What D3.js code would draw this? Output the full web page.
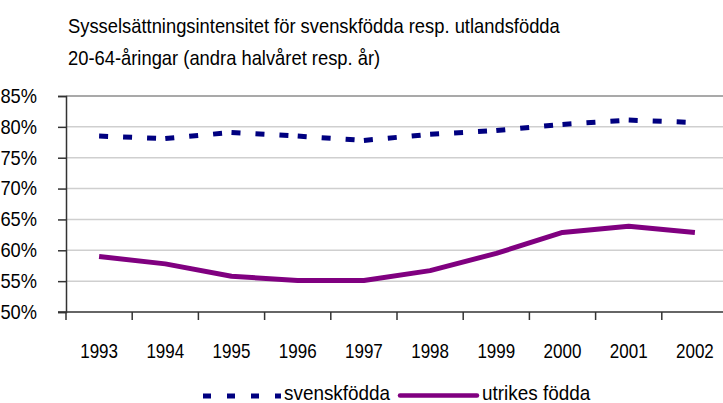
<!DOCTYPE html>
<html lang="sv">
<head>
    <meta charset="utf-8">
    <title>Sysselsättningsintensitet</title>
    <script type="text/javascript" src="https://d3js.org/d3.v7.min.js"></script>
    <style type="text/css">
        body { margin: 0; background: #fff; }
        svg { font-family: "Liberation Sans", Arial, sans-serif; }
    </style>
</head>
<body>
<script type="text/javascript">

    // data
    var years = ["1993", "1994", "1995", "1996", "1997", "1998", "1999", "2000", "2001", "2002"];
    var svenskfodda = [78.5, 78.1, 79.1, 78.5, 77.8, 78.8, 79.4, 80.4, 81.1, 80.7];
    var utrikesFodda = [59.0, 57.8, 55.8, 55.1, 55.1, 56.7, 59.5, 62.9, 63.9, 62.9];
    var yTicks = [50, 55, 60, 65, 70, 75, 80, 85];
    var titleLines = ["Sysselsättningsintensitet för svenskfödda resp. utlandsfödda",
                      "20-64-åringar (andra halvåret resp. år)"];
    var seriesNames = ["svenskfödda", "utrikes födda"];

    var width = 723, height = 403;

    var svg = d3.select("body")
        .append("svg")
        .attr("width", width)
        .attr("height", height);

    var x = d3.scaleBand().domain(years).range([66, 728]);
    var y = d3.scaleLinear().domain([50, 85]).range([312, 96]);

    // the original font is a narrow sans, so squeeze the text horizontally
    function squeeze(sel, f) {
        sel.each(function() {
            var w = this.getComputedTextLength();
            d3.select(this)
                .attr("textLength", w * f)
                .attr("lengthAdjust", "spacingAndGlyphs");
        });
    }

    // title
    svg.selectAll(".title")
        .data(titleLines)
        .enter()
        .append("text")
        .attr("class", "title")
        .attr("x", 68)
        .attr("y", function(d, i) { return 33 + i * 32; })
        .attr("font-size", "21px")
        .attr("fill", "#000")
        .text(function(d) { return d; })
        .call(squeeze, 0.874);

    // gridlines
    svg.selectAll(".grid")
        .data(yTicks.slice(1))
        .enter()
        .append("line")
        .attr("x1", 66).attr("x2", width)
        .attr("y1", function(d) { return y(d); })
        .attr("y2", function(d) { return y(d); })
        .attr("stroke", function(d) { return d === 85 ? "#8c8c8c" : "#cfcfcf"; })
        .attr("stroke-width", 1.5);

    // y axis
    var yAxis = svg.append("g")
        .attr("transform", "translate(66,0)")
        .attr("font-family", null)
        .call(d3.axisLeft(y).tickValues(yTicks).tickSize(8).tickPadding(21)
            .tickFormat(function(d) { return d + "%"; }));
    yAxis.attr("font-family", null);
    yAxis.select(".domain").attr("stroke", "#333").attr("stroke-width", 1.5);
    yAxis.selectAll(".tick line").attr("stroke", "#333").attr("stroke-width", 1.5);
    yAxis.selectAll(".tick text")
        .attr("font-size", "21px")
        .attr("fill", "#000")
        .attr("dy", "0.3em")
        .call(squeeze, 0.87);

    // x axis, ticks between categories
    var xAxis = svg.append("g")
        .attr("transform", "translate(0,312)");
    xAxis.append("line")
        .attr("x1", 58).attr("x2", width)
        .attr("stroke", "#333").attr("stroke-width", 1.5);
    xAxis.selectAll(".xtick")
        .data(years)
        .enter()
        .append("line")
        .attr("x1", function(d) { return x(d); })
        .attr("x2", function(d) { return x(d); })
        .attr("y1", 0).attr("y2", 8)
        .attr("stroke", "#333").attr("stroke-width", 1.5);
    xAxis.selectAll(".xlabel")
        .data(years)
        .enter()
        .append("text")
        .attr("x", function(d) { return x(d) + x.bandwidth() / 2; })
        .attr("y", 46)
        .attr("text-anchor", "middle")
        .attr("font-size", "21px")
        .attr("fill", "#000")
        .text(function(d) { return d; })
        .call(squeeze, 0.81);

    function cx(i) { return x(years[i]) + x.bandwidth() / 2; }

    // svenskfödda: dashes restart at every segment
    var segLine = d3.line()
        .x(function(d) { return cx(d.i); })
        .y(function(d) { return y(d.v); });
    var segs = d3.pairs(svenskfodda.map(function(v, i) { return {i: i, v: v}; }));
    svg.selectAll(".seg")
        .data(segs)
        .enter()
        .append("path")
        .attr("d", function(d) { return segLine(d); })
        .attr("fill", "none")
        .attr("stroke", "#000080")
        .attr("stroke-width", 5)
        .attr("stroke-dasharray", "9,15");

    // utrikes födda
    var line = d3.line()
        .x(function(d, i) { return cx(i); })
        .y(function(d) { return y(d); });
    svg.append("path")
        .datum(utrikesFodda)
        .attr("d", line)
        .attr("fill", "none")
        .attr("stroke", "#800080")
        .attr("stroke-width", 5)
        .attr("stroke-linejoin", "round");

    // legend
    var legend = svg.append("g");
    legend.append("line")
        .attr("x1", 203).attr("x2", 281)
        .attr("y1", 396).attr("y2", 396)
        .attr("stroke", "#000080").attr("stroke-width", 5)
        .attr("stroke-dasharray", "8,16");
    legend.append("text")
        .attr("x", 284).attr("y", 400)
        .attr("font-size", "21px")
        .text(seriesNames[0])
        .call(squeeze, 0.9);
    legend.append("line")
        .attr("x1", 400).attr("x2", 477)
        .attr("y1", 395.5).attr("y2", 395.5)
        .attr("stroke", "#800080").attr("stroke-width", 4.5)
        .attr("stroke-linecap", "round");
    legend.append("text")
        .attr("x", 482).attr("y", 400)
        .attr("font-size", "21px")
        .text(seriesNames[1])
        .call(squeeze, 0.9);

</script>
</body>
</html>
